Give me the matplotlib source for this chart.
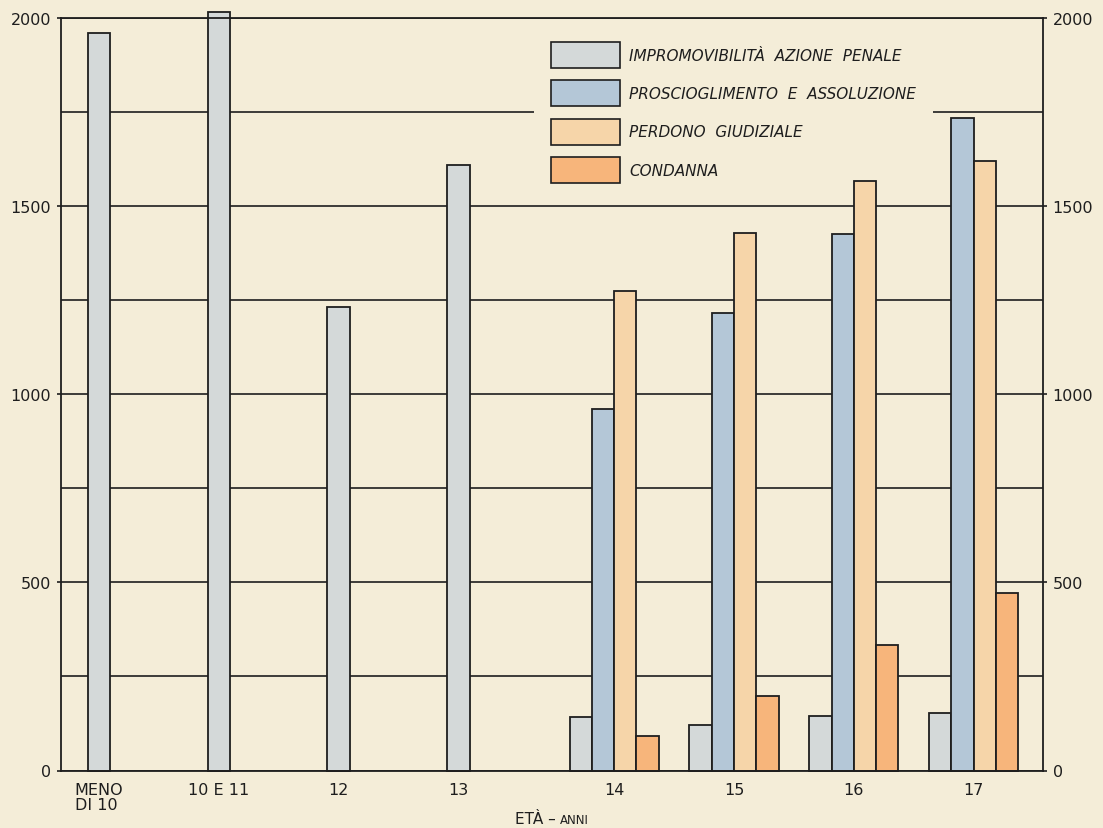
import matplotlib
matplotlib.use("Agg")
import matplotlib.pyplot as plt
from matplotlib.patches import Patch
import numpy as np

# Age classes and counts per outcome
categories = ["MENO\nDI 10", "10 E 11", "12", "13", "14", "15", "16", "17"]
impromovibilita = [1960, 2015, 1232, 1610, 141, 120, 145, 152]
proscioglimento = [None, None, None, None, 962, 1215, 1426, 1735]
perdono = [None, None, None, None, 1274, 1428, 1568, 1620]
condanna = [None, None, None, None, 91, 199, 334, 471]

series_labels = [
    "IMPROMOVIBILITÀ  AZIONE  PENALE",
    "PROSCIOGLIMENTO  E  ASSOLUZIONE",
    "PERDONO  GIUDIZIALE",
    "CONDANNA",
]
y_ticks = [0, 500, 1000, 1500, 2000]

bg = "#F4EDD8"
colors = ["#D4D9D9", "#B4C7D7", "#F6D5A9", "#F7B57B"]
ink = "#1E1E1E"

fig = plt.figure(figsize=(11.03, 8.29), dpi=100, facecolor=bg)
ax = fig.add_axes([61 / 1103, 1 - 771.5 / 829, 982 / 1103, (771.5 - 19) / 829])
ax.set_facecolor(bg)
ax.set_axisbelow(True)

# group centres: a wider gap separates the under-14 classes
x = np.array([i + (0.3 if i >= 4 else 0.0) for i in range(len(categories))])
w = 0.186

all_series = [impromovibilita, proscioglimento, perdono, condanna]
for i, xc in enumerate(x):
    present = [k for k, s in enumerate(all_series) if s[i] is not None]
    n = len(present)
    for j, k in enumerate(present):
        off = (j - (n - 1) / 2) * w
        ax.bar(xc + off, all_series[k][i], width=w, color=colors[k],
               edgecolor=ink, linewidth=1.3, zorder=3, clip_on=False)

ax.set_xlim(-0.317, 7.879)
ax.set_ylim(0, 2000)

ax.set_yticks(y_ticks)
ax.set_yticks(np.arange(250, 2000, 500), minor=True)
ax.grid(True, which="both", axis="y", color=ink, linewidth=1.2)
ax.grid(False, axis="x")

ax.set_xticks(x)
ax.set_xticklabels(categories, fontsize=11.5, color=ink, multialignment="left",
                   linespacing=1.05)
ax.tick_params(axis="x", length=0, pad=8)
ax.tick_params(axis="y", which="major", length=3, width=1.2, color=ink,
               labelsize=11.5, labelcolor=ink, left=True, right=True,
               labelleft=True, labelright=True, pad=4)
ax.tick_params(axis="y", which="minor", length=0)

for sp in ax.spines.values():
    sp.set_color(ink)
    sp.set_linewidth(1.3)
    sp.set_zorder(4)

handles = [Patch(facecolor=c, edgecolor=ink, linewidth=1.2) for c in colors]
leg = ax.legend(handles, series_labels, loc="upper left",
                bbox_to_anchor=(534 / 1103, 1 - 26 / 829),
                bbox_transform=fig.transFigure,
                prop={"style": "italic", "size": 11},
                handlelength=4.52, handleheight=2.24, handletextpad=0.63,
                labelspacing=0.81, borderpad=1.1, borderaxespad=0,
                frameon=True, fancybox=False, framealpha=1)
leg.get_frame().set_facecolor(bg)
leg.get_frame().set_edgecolor("none")
for t in leg.get_texts():
    t.set_color(ink)
leg.set_zorder(1)

fig.text(556 / 1103, 1 - 820 / 829, "ETÀ –", ha="right", va="center",
         fontsize=11, color=ink)
fig.text(560 / 1103, 1 - 821 / 829, "ANNI", ha="left", va="center",
         fontsize=8.5, color=ink)

fig.savefig("out.png", dpi=100, facecolor=bg)
